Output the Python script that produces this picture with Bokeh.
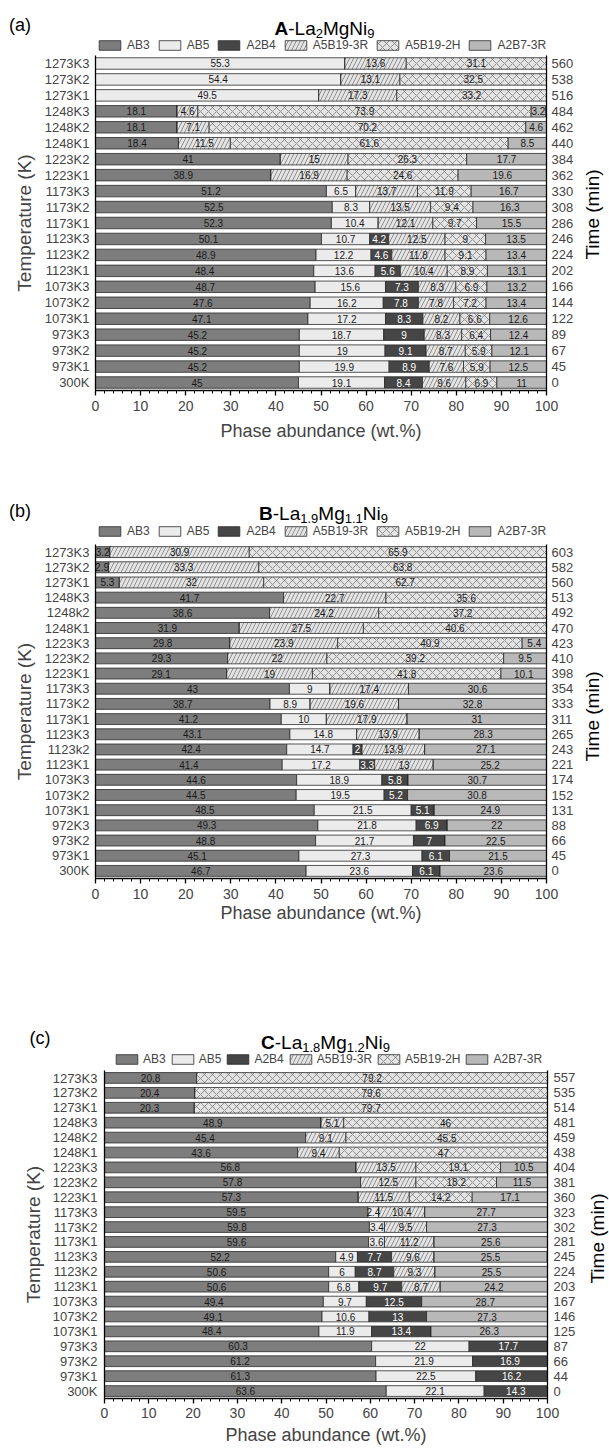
import math
import numpy as np
from bokeh.plotting import figure
from bokeh.models import (ColumnDataSource, FactorRange, Range1d, CategoricalAxis,
                          Legend, LegendItem, Label, FixedTicker)
from bokeh.layouts import column, row
from bokeh.embed import file_html
from bokeh.resources import INLINE
from bokeh.core.properties import value

FONT = "Liberation Sans"
PHASES = ["AB3", "AB5", "A2B4", "A5B19-3R", "A5B19-2H", "A2B7-3R"]
COLORS = ["#7d7d7d", "#ebebeb", "#464646", "#e4e4e4", "#e4e4e4", "#b8b8b8"]
HATCH = [" ", " ", " ", "/", "x", " "]
TEXT_COLORS = ["#1a1a1a", "#1a1a1a", "#ffffff", "#1a1a1a", "#1a1a1a", "#1a1a1a"]

# ---------------- Panel (a): A-La2MgNi9 (rows top -> bottom)
a_labels = ["1273K3", "1273K2", "1273K1", "1248K3", "1248K2", "1248K1", "1223K2", "1223K1",
            "1173K3", "1173K2", "1173K1", "1123K3", "1123K2", "1123K1", "1073K3", "1073K2",
            "1073K1", "973K3", "973K2", "973K1", "300K"]
a_time = [560, 538, 516, 484, 462, 440, 384, 362, 330, 308, 286, 246, 224, 202, 166, 144,
          122, 89, 67, 45, 0]
a_AB3 = [0, 0, 0, 18.1, 18.1, 18.4, 41, 38.9, 51.2, 52.5, 52.3, 50.1, 48.9, 48.4, 48.7, 47.6,
         47.1, 45.2, 45.2, 45.2, 45]
a_AB5 = [55.3, 54.4, 49.5, 0, 0, 0, 0, 0, 6.5, 8.3, 10.4, 10.7, 12.2, 13.6, 15.6, 16.2,
         17.2, 18.7, 19, 19.9, 19.1]
a_A2B4 = [0, 0, 0, 0, 0, 0, 0, 0, 0, 0, 0, 4.2, 4.6, 5.6, 7.3, 7.8,
          8.3, 9, 9.1, 8.9, 8.4]
a_A5B19_3R = [13.6, 13.1, 17.3, 4.6, 7.1, 11.5, 15, 16.9, 13.7, 13.5, 12.1, 12.5, 11.8, 10.4,
              8.3, 7.8, 8.2, 8.3, 8.7, 7.6, 9.6]
a_A5B19_2H = [31.1, 32.5, 33.2, 73.9, 70.2, 61.6, 26.3, 24.6, 11.9, 9.4, 9.7, 9, 9.1, 8.9,
              6.9, 7.2, 6.6, 6.4, 5.9, 5.9, 6.9]
a_A2B7_3R = [0, 0, 0, 3.2, 4.6, 8.5, 17.7, 19.6, 16.7, 16.3, 15.5, 13.5, 13.4, 13.1, 13.2,
             13.4, 12.6, 12.4, 12.1, 12.5, 11]

# ---------------- Panel (b): B-La1.9Mg1.1Ni9
b_labels = ["1273K3", "1273K2", "1273K1", "1248K3", "1248k2", "1248K1", "1223K3", "1223K2",
            "1223K1", "1173K3", "1173K2", "1173K1", "1123K3", "1123k2", "1123K1", "1073K3",
            "1073K2", "1073K1", "972K3", "973K2", "973K1", "300K"]
b_time = [603, 582, 560, 513, 492, 470, 423, 410, 398, 354, 333, 311, 265, 243, 221, 174,
          152, 131, 88, 66, 45, 0]
b_AB3 = [3.2, 2.9, 5.3, 41.7, 38.6, 31.9, 29.8, 29.3, 29.1, 43, 38.7, 41.2, 43.1, 42.4, 41.4,
         44.6, 44.5, 48.5, 49.3, 48.8, 45.1, 46.7]
b_AB5 = [0, 0, 0, 0, 0, 0, 0, 0, 0, 9, 8.9, 10, 14.8, 14.7, 17.2, 18.9, 19.5, 21.5, 21.8,
         21.7, 27.3, 23.6]
b_A2B4 = [0, 0, 0, 0, 0, 0, 0, 0, 0, 0, 0, 0, 0, 2, 3.3, 5.8, 5.2, 5.1, 6.9, 7, 6.1, 6.1]
b_A5B19_3R = [30.9, 33.3, 32, 22.7, 24.2, 27.5, 23.9, 22, 19, 17.4, 19.6, 17.9, 13.9, 13.9, 13,
              0, 0, 0, 0, 0, 0, 0]
b_A5B19_2H = [65.9, 63.8, 62.7, 35.6, 37.2, 40.6, 40.9, 39.2, 41.8, 0, 0, 0, 0, 0, 0, 0, 0, 0,
              0, 0, 0, 0]
b_A2B7_3R = [0, 0, 0, 0, 0, 0, 5.4, 9.5, 10.1, 30.6, 32.8, 31, 28.3, 27.1, 25.2, 30.7, 30.8,
             24.9, 22, 22.5, 21.5, 23.6]

# ---------------- Panel (c): C-La1.8Mg1.2Ni9
c_labels = ["1273K3", "1273K2", "1273K1", "1248K3", "1248K2", "1248K1", "1223K3", "1223K2",
            "1223K1", "1173K3", "1173K2", "1173K1", "1123K3", "1123K2", "1123K1", "1073K3",
            "1073K2", "1073K1", "973K3", "973K2", "973K1", "300K"]
c_time = [557, 535, 514, 481, 459, 438, 404, 381, 360, 323, 302, 281, 245, 224, 203, 167,
          146, 125, 87, 66, 44, 0]
c_AB3 = [20.8, 20.4, 20.3, 48.9, 45.4, 43.6, 56.8, 57.8, 57.3, 59.5, 59.8, 59.6, 52.2, 50.6,
         50.6, 49.4, 49.1, 48.4, 60.3, 61.2, 61.3, 63.6]
c_AB5 = [0, 0, 0, 0, 0, 0, 0, 0, 0, 2.4, 3.4, 3.6, 4.9, 6, 6.8, 9.7, 10.6, 11.9, 22, 21.9,
         22.5, 22.1]
c_A2B4 = [0, 0, 0, 0, 0, 0, 0, 0, 0, 0, 0, 0, 7.7, 8.7, 9.7, 12.5, 13, 13.4, 17.7, 16.9,
          16.2, 14.3]
c_A5B19_3R = [0, 0, 0, 5.1, 9.1, 9.4, 13.5, 12.5, 11.5, 10.4, 9.5, 11.2, 9.6, 9.3, 8.7, 0, 0,
              0, 0, 0, 0, 0]
c_A5B19_2H = [79.2, 79.6, 79.7, 46, 45.5, 47, 19.1, 18.2, 14.2, 0, 0, 0, 0, 0, 0, 0, 0, 0, 0,
              0, 0, 0]
c_A2B7_3R = [0, 0, 0, 0, 0, 0, 10.5, 11.5, 17.1, 27.7, 27.3, 25.6, 25.5, 25.5, 24.2, 28.7,
             27.3, 26.3, 0, 0, 0, 0]

# Arial / Liberation Sans advance widths (em)
W_REG = {'-': 0.333, 'L': 0.556, 'a': 0.556, 'M': 0.833, 'g': 0.556, 'N': 0.722, 'i': 0.222,
         '.': 0.278}
W_BOLD = {'A': 0.722, 'B': 0.722, 'C': 0.722}

BAR_STYLE = dict(line_color="#2b2b2b", line_width=0.8, hatch_color="#555555",
                 hatch_scale=8, hatch_weight=0.6)


def text_w(t, size, bold):
    tbl = W_BOLD if bold else W_REG
    return sum(tbl.get(ch, 0.556) for ch in t) * size


def blank_fig(W, H):
    f = figure(width=W, height=H, x_range=Range1d(0, W), y_range=Range1d(0, H),
               output_backend="svg", toolbar_location=None, title_location=None,
               x_axis_location=None, y_axis_location=None, frame_align=False,
               min_border_left=0, min_border_right=0, min_border_top=0, min_border_bottom=0)
    f.outline_line_color = None
    f.background_fill_color = "white"
    f.border_fill_color = "white"
    f.grid.visible = False
    return f


def make_header(H, tag, tag_xy, title_pieces, title_xy, legend_loc, spacing, standoff):
    h = blank_fig(609, H)
    rends = []
    for ph, col, hp in zip(PHASES, COLORS, HATCH):
        # swatch renderer (its single bar sits outside the visible range)
        r = h.hbar(y=[-50], left=[0], right=[10], height=5, fill_color=col, hatch_pattern=hp,
                   **BAR_STYLE)
        rends.append(r)
    legend = Legend(items=[LegendItem(label=value(ph), renderers=[r])
                           for ph, r in zip(PHASES, rends)],
                    location=legend_loc, orientation="horizontal",
                    border_line_color=None, background_fill_alpha=0, padding=0, margin=0,
                    spacing=spacing, label_standoff=standoff,
                    glyph_width=27, glyph_height=12, label_height=12,
                    label_text_font=FONT, label_text_font_size="12px",
                    label_text_baseline="middle")
    h.add_layout(legend)

    h.add_layout(Label(x=tag_xy[0], y=tag_xy[1], text=tag, text_font=FONT,
                       text_font_size="18px", text_baseline="middle", text_align="left",
                       text_color="black"))
    total = sum(text_w(t, s, b) for t, s, b, sub in title_pieces)
    x = title_xy[0] - total / 2
    for t, s, b, sub in title_pieces:
        h.add_layout(Label(x=x, y=title_xy[1] - (5 if sub else 0), text=t, text_font=FONT,
                           text_font_size=f"{s}px", text_font_style="bold" if b else "normal",
                           text_baseline="alphabetic", text_align="left", text_color="black"))
        x += text_w(t, s, b)
    return h


def make_side(W, H, x, y):
    s = blank_fig(W, H)
    s.add_layout(Label(x=x, y=y, text="Time (min)", angle=math.pi / 2, text_font=FONT,
                       text_font_size="19px", text_align="center", text_baseline="middle",
                       text_color="black"))
    return s


def make_main(labels, times, series, W, H, mb, ax):
    src = ColumnDataSource({"label": labels, **{ph: s for ph, s in zip(PHASES, series)}})
    p = figure(width=W, height=H, y_range=FactorRange(*labels[::-1]),
               x_range=Range1d(0, 100), output_backend="svg", toolbar_location=None,
               title_location=None, frame_align=False,
               min_border_left=mb[0], min_border_right=mb[1], min_border_top=mb[2],
               min_border_bottom=mb[3])
    p.background_fill_color = "white"
    p.border_fill_color = "white"
    p.outline_line_color = None
    p.xgrid.grid_line_color = None
    p.ygrid.grid_line_color = None

    p.hbar_stack(PHASES, y="label", height=0.72, source=src, fill_color=COLORS,
                 hatch_pattern=HATCH, **BAR_STYLE)

    # value labels centred in each segment
    M = np.array(series, dtype=float)
    mid = np.cumsum(M, axis=0) - M / 2
    xs, ys, txt, cols = [], [], [], []
    for i in range(M.shape[0]):
        for j in range(M.shape[1]):
            if M[i, j] > 0:
                xs.append(mid[i, j])
                ys.append(labels[j])
                txt.append(f"{M[i, j]:g}")
                cols.append(TEXT_COLORS[i])
    tsrc = ColumnDataSource(dict(x=xs, y=ys, t=txt, c=cols))
    p.text(x="x", y="y", text="t", text_color="c", source=tsrc, text_align="center",
           text_baseline="middle", text_font=value(FONT), text_font_size="10px")

    xa = p.xaxis[0]
    xa.ticker = FixedTicker(ticks=list(range(0, 101, 10)), minor_ticks=list(range(0, 101, 2)))
    xa.axis_label = "Phase abundance (wt.%)"
    xa.axis_label_text_font = FONT
    xa.axis_label_text_font_size = "18px"
    xa.axis_label_text_font_style = "normal"
    xa.axis_label_standoff = ax["x_title"]
    xa.major_label_text_font = FONT
    xa.major_label_text_font_size = "14px"
    xa.major_label_standoff = ax["x_lab"]
    xa.major_tick_out = 5
    xa.major_tick_in = 0
    xa.minor_tick_out = 3
    xa.minor_tick_in = 0
    xa.axis_line_width = 1.3
    xa.major_tick_line_width = 1.3

    ya = p.yaxis[0]
    ya.axis_label = "Temperature (K)"
    ya.axis_label_text_font = FONT
    ya.axis_label_text_font_size = "19px"
    ya.axis_label_text_font_style = "normal"
    ya.axis_label_standoff = ax["l_title"]
    ya.major_label_text_font = FONT
    ya.major_label_text_font_size = "13px"
    ya.major_label_standoff = ax["l_lab"]
    ya.major_tick_out = 0
    ya.major_tick_in = 0
    ya.axis_line_width = 1.3

    p.extra_y_ranges = {"time": FactorRange(*[str(t) for t in times[::-1]])}
    ra = CategoricalAxis(y_range_name="time")
    ra.major_label_text_font = FONT
    ra.major_label_text_font_size = "13px"
    ra.major_label_standoff = ax["r_lab"]
    ra.major_tick_out = 0
    ra.major_tick_in = 0
    ra.axis_line_width = 1.3
    p.add_layout(ra, "right")
    return p


# ---- panel (a): page rows 0-55 header, 55-465 chart
hA = make_header(55, "(a)", (8.6, 30.3),
                 [("A", 19, True, False), ("-La", 19, False, False), ("2", 13, False, True),
                  ("MgNi", 19, False, False), ("9", 13, False, True)],
                 (324, 26.7), (96, 3.3), 6, 4)
pA = make_main(a_labels, a_time,
               [a_AB3, a_AB5, a_A2B4, a_A5B19_3R, a_A5B19_2H, a_A2B7_3R],
               W=576, H=410, mb=(95, 29, 0, 75),
               ax=dict(x_lab=5, x_title=7, l_lab=6, l_title=7, r_lab=5))
sA = make_side(33, 410, 16, 251)

# ---- panel (b): 465-544 header, 544-963 chart
hB = make_header(79, "(b)", (8.6, 33.2),
                 [("B", 19, True, False), ("-La", 19, False, False), ("1.9", 13, False, True),
                  ("Mg", 19, False, False), ("1.1", 13, False, True), ("Ni", 19, False, False),
                  ("9", 13, False, True)],
                 (323, 30.7), (96, 5.7), 6, 4)
pB = make_main(b_labels, b_time,
               [b_AB3, b_AB5, b_A2B4, b_A5B19_3R, b_A5B19_2H, b_A2B7_3R],
               W=576, H=419, mb=(95, 29, 0, 85),
               ax=dict(x_lab=5, x_title=1, l_lab=6, l_title=7, r_lab=5))
sB = make_side(33, 419, 16, 247)

# ---- panel (c): 963-1070 header, 1070-1453 chart
hC = make_header(107, "(c)", (29, 32.5),
                 [("C", 19, True, False), ("-La", 19, False, False), ("1.8", 13, False, True),
                  ("Mg", 19, False, False), ("1.2", 13, False, True), ("Ni", 19, False, False),
                  ("9", 13, False, True)],
                 (325, 28.3), (113, 4), 3, 3)
pC = make_main(c_labels, c_time,
               [c_AB3, c_AB5, c_A2B4, c_A5B19_3R, c_A5B19_2H, c_A2B7_3R],
               W=578, H=383, mb=(104, 29, 0, 55),
               ax=dict(x_lab=4, x_title=4, l_lab=7, l_title=6, r_lab=6))
sC = make_side(31, 383, 19, 215)

layout = column(hA, row(pA, sA, spacing=0), hB, row(pB, sB, spacing=0),
                hC, row(pC, sC, spacing=0), spacing=0)
open("out.html", "w").write(file_html(layout, INLINE))
